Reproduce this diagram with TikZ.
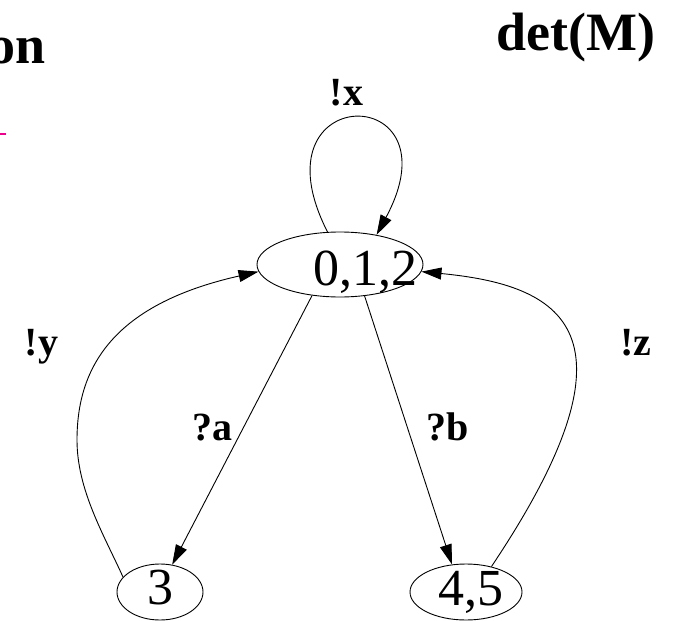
\documentclass[tikz,border=0pt]{standalone}
\usepackage{fontspec}
\setmainfont{Liberation Serif}
\usetikzlibrary{shapes.geometric,arrows.meta}

\begin{document}
\begin{tikzpicture}[
    x=1pt, y=-1pt,
    state/.style={draw, ellipse, inner sep=0pt, line width=0.9pt},
    num/.style={font=\fontsize{52}{60}\selectfont, inner sep=0pt},
    lbl/.style={font=\fontsize{40}{48}\selectfont\bfseries, anchor=base, inner sep=0pt},
    ttl/.style={font=\fontsize{54}{64}\selectfont\bfseries, anchor=base, inner sep=0pt},
    arr/.style={-{Triangle[length=20pt, width=12pt]}, line width=0.9pt}
  ]
    \useasboundingbox (0,0) rectangle (675,621);

    % titles
    \node[ttl, anchor=base east] (tl) at (45.5,63) {on};
    \node[ttl] (tr) at (576,50) {det(M)};
    \draw[magenta, line width=2pt] (-4,134) -- (6,134);

    % states
    \node[state, minimum width=166pt, minimum height=65pt,
          label={[num, xshift=25pt, yshift=-8pt]center:0,1,2}] (s012) at (340,264.5) {};
    \node[state, minimum width=86pt, minimum height=56pt,
          label={[num, yshift=4pt]center:3}] (s3) at (160,592) {};
    \node[state, minimum width=112pt, minimum height=56pt,
          label={[num, xshift=5pt]center:4,5}] (s45) at (466,592) {};

    % transitions
    \draw[arr] (s012.111) .. controls (250,80) and (460,80) .. (s012.39);
    \draw[arr] (s012.228) -- (s3.66);
    \draw[arr] (s012.308) -- (s45.117);
    \draw[arr] (s3.158) .. controls (104,535) and (77,490) .. (77,440)
                        .. controls (77,370) and (110,305) .. (s012.185);
    \draw[arr] (s45.45) .. controls (650,330) and (560,285) .. (s012.355);

    % labels
    \node[lbl] (lx) at (346.5,105) {!x};
    \node[lbl] (ly) at (41.5,355) {!y};
    \node[lbl] (lz) at (636,355) {!z};
    \node[lbl] (la) at (212,440) {?a};
    \node[lbl] (lb) at (447.5,440) {?b};
\end{tikzpicture}
\end{document}
